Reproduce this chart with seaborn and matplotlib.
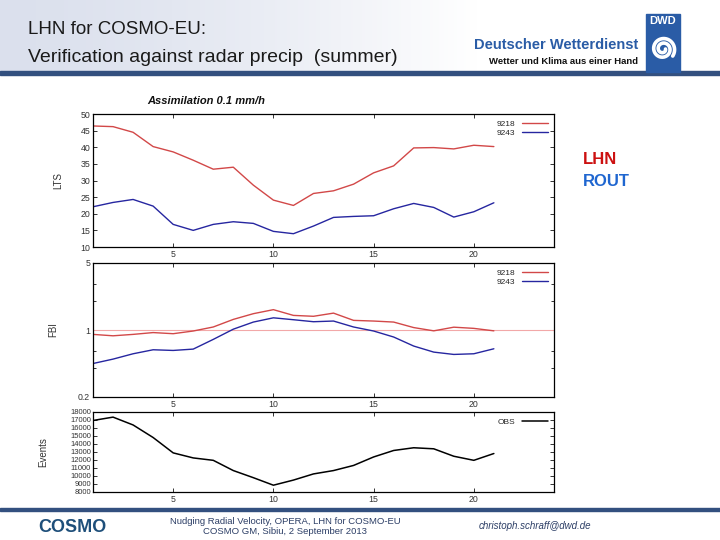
import numpy as np
import pandas as pd
import matplotlib
matplotlib.use("Agg")
import matplotlib.pyplot as plt
import seaborn as sns
from matplotlib.patches import Rectangle
from matplotlib.lines import Line2D
from matplotlib.ticker import FixedLocator, NullFormatter

# ---------------- data ----------------
hours = list(range(1, 22))
lts_lhn = [46.4, 46.2, 44.5, 40.2, 38.6, 36.1, 33.4, 34.0, 28.6, 24.1, 22.5,
           26.1, 26.9, 28.9, 32.3, 34.4, 39.8, 39.9, 39.5, 40.6, 40.2]
lts_rout = [22.1, 23.4, 24.3, 22.3, 16.8, 15.0, 16.8, 17.6, 17.1, 14.7, 14.0,
            16.3, 18.9, 19.2, 19.4, 21.5, 23.1, 21.9, 19.0, 20.6, 23.3]
fbi_lhn = [0.90, 0.87, 0.90, 0.94, 0.915, 0.976, 1.075, 1.29, 1.48, 1.63, 1.42,
           1.39, 1.50, 1.26, 1.24, 1.21, 1.06, 0.98, 1.07, 1.04, 0.98]
fbi_rout = [0.447, 0.497, 0.565, 0.622, 0.612, 0.632, 0.798, 1.02, 1.21, 1.34, 1.28,
            1.22, 1.24, 1.075, 0.976, 0.845, 0.68, 0.588, 0.556, 0.565, 0.637]
obs_events = [16940, 17360, 16380, 14810, 12890, 12260, 11960, 10680, 9790, 8850, 9490,
              10260, 10680, 11320, 12380, 13190, 13530, 13400, 12470, 11960, 12810]
series_names = ["9218", "9243"]
x_ticks = [5, 10, 15, 20]
lts_ticks = [10, 15, 20, 25, 30, 35, 40, 45, 50]
fbi_ticks = [0.2, 1, 5]
fbi_tick_labels = ["0.2", "1", "5"]
fbi_minor = [0.4, 0.6, 2, 3]
ev_ticks = list(range(8000, 18001, 1000))

sns.set_style("ticks")
plt.rcParams['font.family'] = ['Liberation Sans', 'DejaVu Sans']

W, H = 720, 540
fig = plt.figure(figsize=(7.2, 5.4), dpi=100)
fig.patch.set_facecolor("white")

def fx(px):
    return px / W
def fy(py):
    return 1 - py / H

# ---------- header ----------
hdr = fig.add_axes([0, fy(72), 1, 72 / H])
grad = np.ones((2, 256, 3))
t = np.clip(np.linspace(0, 1, 256) / 0.66, 0, 1)
left_c = np.array([0.86, 0.88, 0.93])
for i in range(256):
    grad[:, i, :] = left_c * (1 - t[i] ** 1.5) + np.array([1, 1, 1]) * t[i] ** 1.5
hdr.imshow(grad, aspect="auto", extent=[0, 1, 0, 1])
hdr.axis("off")
fig.patches.append(Rectangle((0, fy(75)), 1, 3.5 / H, transform=fig.transFigure,
                             color="#33507f", zorder=5))
fig.text(fx(28), fy(30), "LHN for COSMO-EU:", fontsize=13.5, color="#1a1a1a",
         va="center", ha="left")
fig.text(fx(28), fy(57), "Verification against radar precip  (summer)", fontsize=14,
         color="#1a1a1a", va="center", ha="left")
fig.text(fx(638), fy(45), "Deutscher Wetterdienst", fontsize=10.5, color="#2a5ca6",
         fontweight="bold", ha="right", va="center")
fig.text(fx(638), fy(62), "Wetter und Klima aus einer Hand", fontsize=6.8, color="#111111",
         fontweight="bold", ha="right", va="center")
fig.patches.append(Rectangle((fx(646), fy(72)), 34 / W, 58 / H, transform=fig.transFigure,
                             color="#2a5ca6", zorder=6))
fig.text(fx(663), fy(21), "DWD", fontsize=8, color="white", fontweight="bold",
         ha="center", va="center", zorder=7)
# decorative logo swirl
th = np.linspace(0, 4.2 * np.pi, 200)
r = 2.5 + 9.5 * th / th.max()
sx = 663 + r * np.cos(th)
sy = 49 + r * np.sin(th) * 1.0
fig.lines.append(Line2D(fx(sx), fy(sy), transform=fig.transFigure, color="white",
                        linewidth=2.6, zorder=7, solid_capstyle="round"))

fig.text(fx(147), fy(101), "Assimilation 0.1 mm/h", fontsize=8, fontweight="bold",
         style="italic", color="#111111", ha="left", va="center")

fig.text(fx(583), fy(160), "LHN", fontsize=12, fontweight="bold", color="#cc1111",
         ha="left", va="center")
fig.text(fx(583), fy(182), "ROUT", fontsize=12, fontweight="bold", color="#1f66d0",
         ha="left", va="center")

red_c = "#d24848"
blue_c = "#2626a0"
tick_kw = dict(direction="in", top=True, right=True, length=3, width=0.7,
               labelsize=6.3, colors="#333333", pad=2)

def panel(top, bottom):
    return fig.add_axes([fx(93), fy(bottom), (554 - 93) / W, (bottom - top) / H])

def style(ax):
    for s in ax.spines.values():
        s.set_linewidth(0.9)
        s.set_color("black")
    ax.tick_params(axis="both", which="both", **tick_kw)
    ax.set_xlim(1, 24)
    ax.set_xticks(x_ticks)
    ax.set_xlabel("")

# ---------- panel 1: LTS ----------
df1 = pd.DataFrame({"hour": hours * 2, "value": lts_lhn + lts_rout,
                    "run": [series_names[0]] * len(hours) + [series_names[1]] * len(hours)})
ax1 = panel(114, 247)
sns.lineplot(data=df1, x="hour", y="value", hue="run", palette=[red_c, blue_c],
             ax=ax1, linewidth=1.0)
style(ax1)
ax1.set_ylim(10, 50)
ax1.set_yticks(lts_ticks)
ax1.set_ylabel("LTS", fontsize=7, color="#333333", labelpad=12)
ax1.legend(loc="upper right", frameon=False, fontsize=6, markerfirst=False,
           handlelength=3.2, labelspacing=0.2, borderaxespad=0.3)

# ---------- panel 2: FBI ----------
df2 = pd.DataFrame({"hour": hours * 2, "value": fbi_lhn + fbi_rout,
                    "run": [series_names[0]] * len(hours) + [series_names[1]] * len(hours)})
ax2 = panel(263, 397)
ax2.axhline(1, color="#f2a8a8", linewidth=0.8, zorder=1)
sns.lineplot(data=df2, x="hour", y="value", hue="run", palette=[red_c, blue_c],
             ax=ax2, linewidth=1.0)
style(ax2)
ax2.set_yscale("log")
ax2.set_ylim(0.2, 5)
ax2.yaxis.set_major_locator(FixedLocator(fbi_ticks))
ax2.set_yticklabels(fbi_tick_labels)
ax2.yaxis.set_minor_locator(FixedLocator(fbi_minor))
ax2.yaxis.set_minor_formatter(NullFormatter())
ax2.tick_params(axis="y", which="minor", length=2)
ax2.set_ylabel("FBI", fontsize=7, color="#333333", labelpad=14)
ax2.legend(loc="upper right", frameon=False, fontsize=6, markerfirst=False,
           handlelength=3.2, labelspacing=0.2, borderaxespad=0.3)

# ---------- panel 3: Events ----------
df3 = pd.DataFrame({"hour": hours, "value": obs_events, "run": ["OBS"] * len(hours)})
ax3 = panel(412, 492)
sns.lineplot(data=df3, x="hour", y="value", hue="run", palette=["black"],
             ax=ax3, linewidth=1.1)
style(ax3)
ax3.set_ylim(8000, 18000)
ax3.set_yticks(ev_ticks)
ax3.tick_params(axis="y", labelsize=5.5, pad=1.5)
ax3.set_ylabel("Events", fontsize=7, color="#333333", labelpad=16)
ax3.legend(loc="upper right", frameon=False, fontsize=6, markerfirst=False,
           handlelength=3.2, borderaxespad=0.3)

# ---------- footer ----------
fig.patches.append(Rectangle((0, fy(511)), 1, 3 / H, transform=fig.transFigure,
                             color="#33507f", zorder=5))
fig.text(fx(72), fy(527), "COSMO", fontsize=13, fontweight="bold", color="#1e4f7a",
         ha="center", va="center")
fig.text(fx(285), fy(521), "Nudging Radial Velocity, OPERA, LHN for COSMO-EU",
         fontsize=6.8, color="#2c3e66", ha="center", va="center")
fig.text(fx(285), fy(532), "COSMO GM, Sibiu, 2 September 2013",
         fontsize=6.8, color="#2c3e66", ha="center", va="center")
fig.text(fx(535), fy(526), "christoph.schraff@dwd.de", fontsize=7, style="italic",
         color="#2c3e66", ha="center", va="center")

fig.savefig("out.png", dpi=100, facecolor="white")
